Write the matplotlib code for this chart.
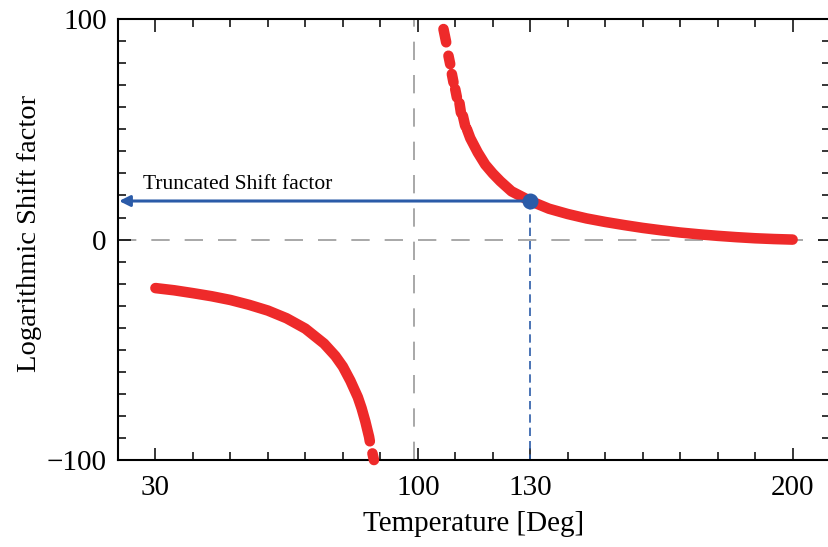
import numpy as np
import matplotlib
matplotlib.use("Agg")
import matplotlib.pyplot as plt
from matplotlib.ticker import MultipleLocator, FixedLocator

plt.rcParams["font.family"] = ["Liberation Serif", "DejaVu Serif"]

# ----------------------------
# shift factor curve (two branches, NaN = visible gap between samples)
# ----------------------------
nan = np.nan

temp_low = [30, 35, 40, 45, 50, 55, 60, 65, 70, 75, 78, 80, 82, 84, 85, 86, 87, 87.2,
            nan, 87.9, 88.3]
shift_low = [-22.0, -23.0, -24.3, -25.7, -27.4, -29.6, -32.2, -35.7, -40.4, -47.2, -52.8,
             -57.6, -64.0, -71.5, -76.5, -82.5, -89.5, -91.5,
             nan, -97.0, -100.0]

temp_high = [106.85, 107.57, nan, 108.18, 108.64, nan, 109.09, 109.52, nan,
             109.98, 110.43, nan, 111.12, 111.50, nan, 112.03, 112.64, nan,
             113.1, 114, 116, 118, 120, 122, 125, 130, 135, 140, 145, 150, 155,
             160, 165, 170, 175, 180, 185, 190, 195, 200]
shift_high = [95.5, 89.5, nan, 83.4, 79.6, nan, 75.1, 71.3, nan,
              68.3, 64.5, nan, 61.9, 57.6, nan, 56.1, 51.6, nan,
              50.1, 46.0, 39.5, 34.0, 30.0, 26.5, 21.9, 17.5, 14.0, 11.6, 9.6, 8.0, 6.6,
              5.3, 4.2, 3.2, 2.4, 1.7, 1.1, 0.6, 0.25, 0.0]

# truncation point
t_cut = 130
s_cut = 17.5
t_asym = 99

x_major = [30, 100, 130, 200]
y_major = [-100, 0, 100]

red = "#ee2a2a"
blue = "#2b5ba8"

fig = plt.figure(figsize=(8.29, 5.47), dpi=100)
ax = fig.add_axes([0.1423, 0.159, 0.859, 0.806])

# reference lines
ax.axhline(0, color="#999999", lw=1.2, dashes=(11, 9), zorder=1)
ax.axvline(t_asym, color="#999999", lw=1.2, dashes=(11, 9), zorder=1)

# curve
for t, s in [(temp_low, shift_low), (temp_high, shift_high)]:
    ax.plot(t, s, color=red, lw=7.6, solid_capstyle="round", solid_joinstyle="round",
            zorder=3, clip_on=False)

# truncated value
ax.plot([t_cut, t_cut], [s_cut, -100], color=blue, lw=1.2, dashes=(5, 3), zorder=2)
ax.annotate("", xy=(20.3, s_cut), xytext=(t_cut, s_cut),
            arrowprops=dict(arrowstyle="-|>", color=blue, lw=2.2,
                            mutation_scale=16, shrinkA=0, shrinkB=0),
            zorder=4)
ax.plot([t_cut], [s_cut], "o", color=blue, ms=10.5, zorder=5)
ax.text(26.8, 20.8, "Truncated Shift factor", fontsize=15.5, va="bottom", ha="left")

ax.set_xlim(20, 210)
ax.set_ylim(-100, 100)
ax.xaxis.set_major_locator(FixedLocator(x_major))
ax.xaxis.set_minor_locator(MultipleLocator(10))
ax.yaxis.set_major_locator(FixedLocator(y_major))
ax.yaxis.set_minor_locator(MultipleLocator(10))

ax.tick_params(which="both", direction="in", top=True, right=True, width=1.1,
               labelsize=21, colors="black")
ax.tick_params(which="major", length=9)
ax.tick_params(axis="x", which="major", pad=11)
ax.tick_params(axis="y", which="major", pad=8)
ax.tick_params(which="minor", length=5.5)
for sp in ax.spines.values():
    sp.set_linewidth(1.5)

ax.set_xlabel("Temperature [Deg]", fontsize=21, labelpad=7)
ax.set_ylabel("Logarithmic Shift factor", fontsize=20.5)
ax.yaxis.set_label_coords(-0.107, 0.515)

fig.savefig("out.png", dpi=100)
